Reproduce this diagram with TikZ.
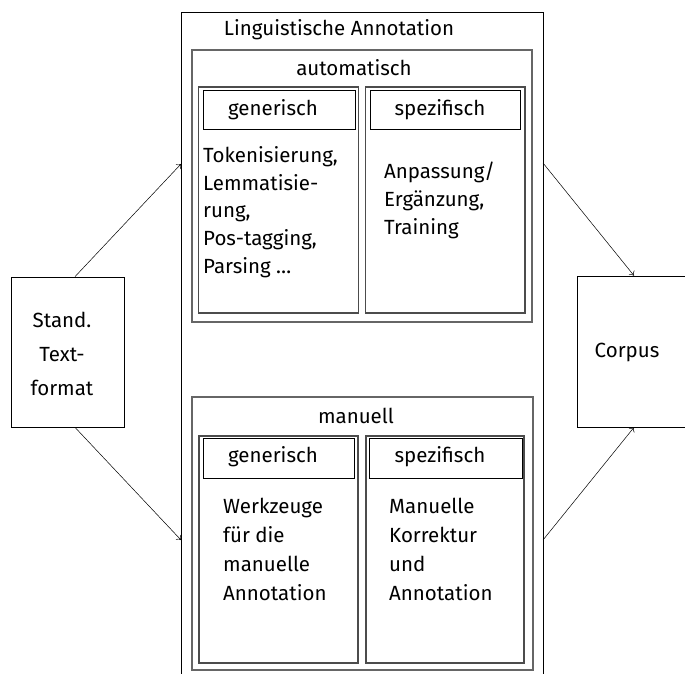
\documentclass[tikz,border=0pt]{standalone}
\usepackage{fontspec}
\setmainfont{Fira Sans}
\usetikzlibrary{arrows.meta}
\begin{document}
\begin{tikzpicture}[x=1pt,y=-1pt,
  frame/.style={draw=black, line width=0.7pt},
  groupframe/.style={draw=black!60, line width=1.7pt},
  colframe/.style={draw=black!70, line width=1.6pt},
  headframe/.style={draw=black, line width=0.8pt},
  txt/.style={font=\fontsize{20.5}{28}\selectfont, inner sep=0pt},
  arr/.style={draw=black, line width=0.5pt, -{To[length=4pt,width=7pt]}}]
\useasboundingbox (0,0) rectangle (685,674);

% outer frame, open at the bottom
\draw[frame] (181,680) coordinate (ol) -- (181,12) -- (543,12) -- (543,680) coordinate (or);
\node[txt] (title) at (339,30) {Linguistische Annotation};

% automatic annotation
\draw[groupframe] (192,50) rectangle (532,322);
\node[txt] (auto) at (354,68) {automatisch};
\draw[colframe] (198.5,87) rectangle (358.5,313);
\draw[colframe] (365.5,87) rectangle (525,313);
\draw[headframe] (203,90) rectangle (355,129);
\draw[headframe] (370,90) rectangle (520,129);
\node[txt] (ag) at (273,110) {generisch};
\node[txt] (as) at (440,110) {spezifisch};
\node[txt, anchor=west, align=left, font=\fontsize{20.5}{27.7}\selectfont] (agt) at (203,212)
  {Tokenisierung,\\Lemmatisie-\\rung,\\Pos-tagging,\\Parsing \dots};
\node[txt, anchor=west, align=left] (ast) at (384,200)
  {Anpassung/\\Ergänzung,\\Training};

% manual annotation
\draw[groupframe] (192,397) rectangle (533,670);
\node[txt] (man) at (356,416) {manuell};
\draw[colframe] (199,436) rectangle (358,663);
\draw[colframe] (366,436) rectangle (524,663);
\draw[headframe] (203,438) rectangle (354,478);
\draw[headframe] (369,438) rectangle (522,478);
\node[txt] (mg) at (273,457) {generisch};
\node[txt] (ms) at (440,457) {spezifisch};
\node[txt, anchor=west, align=left, font=\fontsize{20.5}{29}\selectfont] (mgt) at (223,549.5)
  {Werkzeuge\\für die\\manuelle\\Annotation};
\node[txt, anchor=west, align=left, font=\fontsize{20.5}{29}\selectfont] (mst) at (389,549.5)
  {Manuelle\\Korrektur\\und\\Annotation};

% input and output
\node[frame, minimum width=113pt, minimum height=150pt, inner sep=0pt] (src) at (67.5,352) {};
\node[txt, align=center, font=\fontsize{20.5}{34}\selectfont] (srct) at (62,354) {Stand.\\Text-\\format};
\node[frame, minimum width=110pt, minimum height=151pt, inner sep=0pt] (corp) at (632,351.5) {};
\node[txt] (corpt) at (627,352) {Corpus};

% connectors
\coordinate (inA) at (181,164);
\coordinate (inM) at (181,540);
\coordinate (outA) at (543,163);
\coordinate (outM) at (543,540);
\draw[arr] (src.north -| 75,0) -- (inA);
\draw[arr] (src.south -| 75,0) -- (inM);
\draw[arr] (outA) -- (corp.north -| 634,0);
\draw[arr] (outM) -- (corp.south -| 634,0);
\end{tikzpicture}
\end{document}
